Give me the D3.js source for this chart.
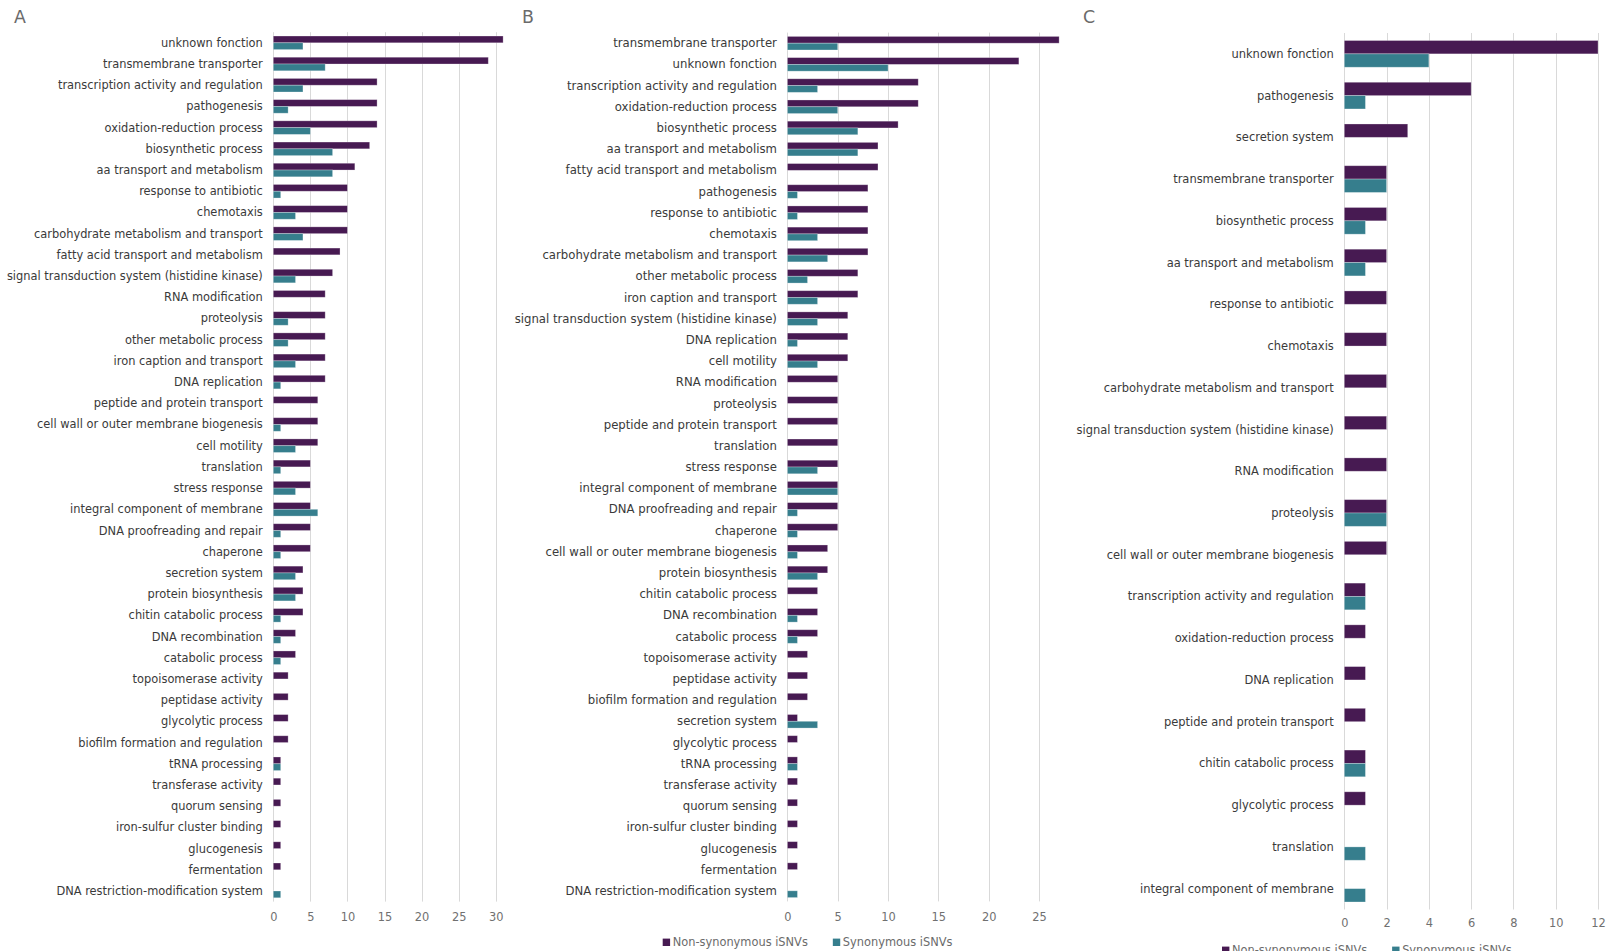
<!DOCTYPE html>
<html>
<head>
<meta charset="utf-8">
<script src="https://cdn.jsdelivr.net/npm/d3@7"></script>
<style>
  html, body { margin: 0; padding: 0; background: #ffffff; overflow: hidden; }
  svg { display: block; }
  text { font-family: "DejaVu Sans", Verdana, sans-serif; }
</style>
</head>
<body>
<svg id="chart" width="1608" height="951"></svg>
<script>
// ---- Panel A ----
const catsA = [
  "unknown fonction", "transmembrane transporter", "transcription activity and regulation",
  "pathogenesis", "oxidation-reduction process", "biosynthetic process",
  "aa transport and metabolism", "response to antibiotic", "chemotaxis",
  "carbohydrate metabolism and transport", "fatty acid transport and metabolism",
  "signal transduction system (histidine kinase)", "RNA modification", "proteolysis",
  "other metabolic process", "iron caption and transport", "DNA replication",
  "peptide and protein transport", "cell wall or outer membrane biogenesis", "cell motility",
  "translation", "stress response", "integral component of membrane",
  "DNA proofreading and repair", "chaperone", "secretion system", "protein biosynthesis",
  "chitin catabolic process", "DNA recombination", "catabolic process",
  "topoisomerase activity", "peptidase activity", "glycolytic process",
  "biofilm formation and regulation", "tRNA processing", "transferase activity",
  "quorum sensing", "iron-sulfur cluster binding", "glucogenesis", "fermentation",
  "DNA restriction-modification system"
];
const nonSynA = [31, 29, 14, 14, 14, 13, 11, 10, 10, 10, 9, 8, 7, 7, 7, 7, 7, 6, 6, 6,
  5, 5, 5, 5, 5, 4, 4, 4, 3, 3, 2, 2, 2, 2, 1, 1, 1, 1, 1, 1, 0];
const synA = [4, 7, 4, 2, 5, 8, 8, 1, 3, 4, 0, 3, 0, 2, 2, 3, 1, 0, 1, 3,
  1, 3, 6, 1, 1, 3, 3, 1, 1, 1, 0, 0, 0, 0, 1, 0, 0, 0, 0, 0, 1];
const ticksA = [0, 5, 10, 15, 20, 25, 30];

// ---- Panel B ----
const catsB = [
  "transmembrane transporter", "unknown fonction", "transcription activity and regulation",
  "oxidation-reduction process", "biosynthetic process", "aa transport and metabolism",
  "fatty acid transport and metabolism", "pathogenesis", "response to antibiotic",
  "chemotaxis", "carbohydrate metabolism and transport", "other metabolic process",
  "iron caption and transport", "signal transduction system (histidine kinase)",
  "DNA replication", "cell motility", "RNA modification", "proteolysis",
  "peptide and protein transport", "translation", "stress response",
  "integral component of membrane", "DNA proofreading and repair", "chaperone",
  "cell wall or outer membrane biogenesis", "protein biosynthesis", "chitin catabolic process",
  "DNA recombination", "catabolic process", "topoisomerase activity", "peptidase activity",
  "biofilm formation and regulation", "secretion system", "glycolytic process",
  "tRNA processing", "transferase activity", "quorum sensing", "iron-sulfur cluster binding",
  "glucogenesis", "fermentation", "DNA restriction-modification system"
];
const nonSynB = [27, 23, 13, 13, 11, 9, 9, 8, 8, 8, 8, 7, 7, 6, 6, 6, 5, 5, 5, 5,
  5, 5, 5, 5, 4, 4, 3, 3, 3, 2, 2, 2, 1, 1, 1, 1, 1, 1, 1, 1, 0];
const synB = [5, 10, 3, 5, 7, 7, 0, 1, 1, 3, 4, 2, 3, 3, 1, 3, 0, 0, 0, 0,
  3, 5, 1, 1, 1, 3, 0, 1, 1, 0, 0, 0, 3, 0, 1, 0, 0, 0, 0, 0, 1];
const ticksB = [0, 5, 10, 15, 20, 25];

// ---- Panel C ----
const catsC = [
  "unknown fonction", "pathogenesis", "secretion system", "transmembrane transporter",
  "biosynthetic process", "aa transport and metabolism", "response to antibiotic",
  "chemotaxis", "carbohydrate metabolism and transport",
  "signal transduction system (histidine kinase)", "RNA modification", "proteolysis",
  "cell wall or outer membrane biogenesis", "transcription activity and regulation",
  "oxidation-reduction process", "DNA replication", "peptide and protein transport",
  "chitin catabolic process", "glycolytic process", "translation",
  "integral component of membrane"
];
const nonSynC = [12, 6, 3, 2, 2, 2, 2, 2, 2, 2, 2, 2, 2, 1, 1, 1, 1, 1, 1, 0, 0];
const synC = [4, 1, 0, 2, 1, 1, 0, 0, 0, 0, 0, 2, 0, 1, 0, 0, 0, 1, 0, 1, 1];
const ticksC = [0, 2, 4, 6, 8, 10, 12];

const seriesNames = ["Non-synonymous iSNVs", "Synonymous iSNVs"];
const seriesColors = ["#471a52", "#367e8d"];

const svg = d3.select("#chart");

function drawPanel(p) {
  const g = svg.append("g");
  const x = d3.scaleLinear().domain([0, p.ticks[p.ticks.length - 1]]).range([p.x0, p.x1]);
  const y = d3.scaleBand().domain(p.cats).range([p.top, p.bottom])
    .paddingInner(0.36).paddingOuter(0.18);
  const sub = d3.scaleBand().domain([0, 1]).range([0, y.bandwidth()]);

  // panel letter
  g.append("text").attr("x", p.letterX).attr("y", 22.7)
    .attr("font-size", 17.4).attr("fill", "#6b6b6b").text(p.letter);

  // vertical gridlines
  g.append("g").selectAll("line").data(p.ticks).join("line")
    .attr("x1", d => Math.round(x(d)) + 0.5).attr("x2", d => Math.round(x(d)) + 0.5)
    .attr("y1", p.top).attr("y2", p.bottom)
    .attr("stroke", "#d9d9d9").attr("stroke-width", 1);

  // value axis labels
  const axis = g.append("g").attr("transform", `translate(0,${p.tickY})`)
    .call(d3.axisBottom(x).tickValues(p.ticks).tickSize(0).tickPadding(0));
  axis.select(".domain").remove();
  axis.selectAll("text").attr("font-size", 11.4).attr("fill", "#707070")
    .attr("font-family", "DejaVu Sans").attr("dy", "0.35em").attr("y", 0);

  // bars
  const rows = p.cats.map((c, i) => ({ c, v: [p.non[i], p.syn[i]] }));
  const row = g.append("g").selectAll("g").data(rows).join("g")
    .attr("transform", d => `translate(0,${y(d.c)})`);
  row.selectAll("rect").data(d => d.v.map((v, k) => ({ v, k })).filter(e => e.v > 0))
    .join("rect")
    .attr("x", x(0))
    .attr("y", e => sub(e.k))
    .attr("width", e => x(e.v) - x(0))
    .attr("height", sub.bandwidth())
    .attr("fill", e => seriesColors[e.k])
    .attr("stroke", "#ffffff").attr("stroke-opacity", 0.35).attr("stroke-width", 0.8);

  // category labels
  g.append("g").selectAll("text").data(p.cats).join("text")
    .attr("x", p.x0 - 10.5)
    .attr("y", d => y(d) + y.bandwidth() / 2)
    .attr("dy", "0.35em")
    .attr("text-anchor", "end")
    .attr("font-size", p.labelSize).attr("fill", "#3a3a3a")
    .text(d => d);

  // legend
  if (p.legend) {
    const lg = g.append("g").attr("transform", `translate(${p.legend.x},${p.legend.y})`);
    let off = 0;
    seriesNames.forEach((name, k) => {
      lg.append("rect").attr("x", off).attr("y", -3.7).attr("width", 7.4).attr("height", 7.4)
        .attr("fill", seriesColors[k]);
      const t = lg.append("text").attr("x", off + 10).attr("y", 0).attr("dy", "0.35em")
        .attr("font-size", 11.4).attr("fill", "#6b6b6b").text(name);
      off += 10 + t.node().getComputedTextLength() + 25;
    });
  }
}

drawPanel({ letter: "A", letterX: 14, cats: catsA, non: nonSynA, syn: synA, ticks: ticksA,
  x0: 273.3, x1: 495.7, top: 32.2, bottom: 901.6, tickY: 916.7, labelSize: 11.42 });
drawPanel({ letter: "B", letterX: 522, cats: catsB, non: nonSynB, syn: synB, ticks: ticksB,
  x0: 787.4, x1: 1039, top: 32.6, bottom: 901.4, tickY: 916.7, labelSize: 11.7,
  legend: { x: 662.7, y: 942.3 } });
drawPanel({ letter: "C", letterX: 1083, cats: catsC, non: nonSynC, syn: synC, ticks: ticksC,
  x0: 1344.3, x1: 1598, top: 33, bottom: 909.5, tickY: 923.3, labelSize: 11.47,
  legend: { x: 1222, y: 950.3 } });
</script>
</body>
</html>
